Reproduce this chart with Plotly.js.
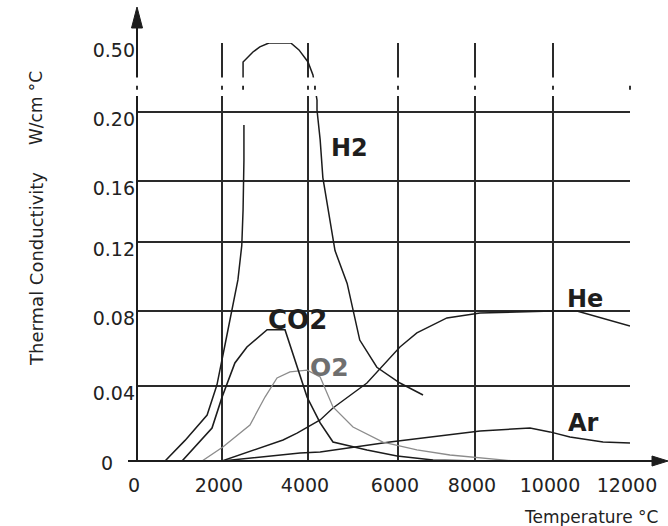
<!DOCTYPE html>
<html>
<head>
<meta charset="utf-8">
<script src="https://cdn.plot.ly/plotly-3.0.1.min.js"></script>
<style>
  html, body { margin: 0; padding: 0; background: #ffffff; }
  #chart { width: 668px; height: 526px; }
</style>
</head>
<body>
<div id="chart"></div>
<script>
// Thermal conductivity of plasma gases versus temperature.

// Temperature tick labels (°C) and conductivity tick labels (W/cm °C)
const tempTicks = [0, 2000, 4000, 6000, 8000, 10000, 12000];
const condTicks = [0, 0.04, 0.08, 0.12, 0.16, 0.20, 0.50];
const condTickText = ['0', '0.04', '0.08', '0.12', '0.16', '0.20', '0.50'];

// H2 (null splits the lower rising branch from the part above the axis break)
const h2Temp = [660, 1130, 1650, 1880, 2070, 2230, 2370, 2460, 2490, 2510, 2510, null,
                2490, 2490, 2720, 2880, 3090, 3600, 3790, 4000, 4110, 4155, 4200, 4200,
                4270, 4330, 4490, 4600, 4870, 5150, 5530, 6050, 6650];
const h2Cond = [0, 0.011, 0.0245, 0.0405, 0.062, 0.0806, 0.098, 0.118, 0.141, 0.172, 0.1925, null,
                0.345, 0.4175, 0.461, 0.483, 0.50, 0.50, 0.47, 0.4175, 0.361, 0.304, 0.252, 0.2087,
                0.184, 0.162, 0.134, 0.115, 0.096, 0.0645, 0.050, 0.0416, 0.0352];

// CO2
const co2Temp = [1060, 1765, 2000, 2300, 2580, 3050, 3465, 3745, 3980, 4270, 4555, 5310, 5980, 6910, 8130];
const co2Cond = [0, 0.0176, 0.034, 0.0523, 0.0608, 0.070, 0.070, 0.050, 0.034, 0.0203, 0.0101, 0.0059, 0.0027, 0.0005, 0];

// O2
const o2Temp = [1530, 2020, 2650, 3000, 3280, 3580, 3980, 4270, 4555, 5000, 5665, 6490, 7350, 8130, 9000];
const o2Cond = [0, 0.0075, 0.0192, 0.0341, 0.0443, 0.0475, 0.0485, 0.0448, 0.0288, 0.0181, 0.0101, 0.0059, 0.0032, 0.0016, 0];

// He
const heTemp = [2000, 3420, 3745, 4270, 4555, 5310, 6050, 6490, 7270, 8130, 10000, 10620, 12000];
const heCond = [0, 0.0112, 0.0149, 0.0219, 0.0283, 0.0416, 0.0608, 0.0683, 0.0763, 0.0789, 0.080, 0.080, 0.072];

// Ar
const arTemp = [2000, 3815, 4270, 5820, 8130, 9410, 9920, 10440, 11300, 12000];
const arCond = [0, 0.0043, 0.0048, 0.0101, 0.016, 0.0176, 0.0155, 0.0128, 0.0101, 0.0096];

// ---- hand-ruled grid: tick positions as fractions of the plot box ----
const W = 668, H = 526;
const box = { left: 137, top: 43, width: 493, height: 418 };
const gridX = [0, 85, 171, 261, 338, 416, 493].map(v => v / box.width);
const gridY = [0, 75, 150, 219, 280, 349, 418].map(v => v / box.height);

function interp(v, from, to) {
  if (v === null) return null;
  for (let i = 1; i < from.length; i++) {
    if (v <= from[i] || i === from.length - 1) {
      const t = (v - from[i - 1]) / (from[i] - from[i - 1]);
      return to[i - 1] + t * (to[i] - to[i - 1]);
    }
  }
}
const sx = v => interp(v, tempTicks, gridX);
const sy = v => interp(v, condTicks, gridY);
// pixel helpers for decorations around the plot box
const px = p => (p - box.left) / box.width;
const py = p => (box.top + box.height - p) / box.height;

const ink = '#1c1c1c';
function curve(name, xs, ys, color, width) {
  return {
    type: 'scatter', mode: 'lines', name: name,
    x: xs.map(sx), y: ys.map(sy),
    line: { color: color, width: width },
    connectgaps: false, hoverinfo: 'skip'
  };
}

const traces = [
  curve('Ar', arTemp, arCond, ink, 1.4),
  curve('He', heTemp, heCond, ink, 1.4),
  curve('O2', o2Temp, o2Cond, '#8c8c8c', 1.3),
  curve('CO2', co2Temp, co2Cond, ink, 1.6),
  curve('H2', h2Temp, h2Cond, ink, 1.5)
];

// ---- axis break band with small marks ----
const breakLow = 0.27, breakHigh = 0.35, breakMid = 0.305;
const shapes = [];
// x axis line with arrow
shapes.push({ type: 'line', xref: 'paper', yref: 'paper', x0: px(128), x1: px(656), y0: 0, y1: 0,
              line: { color: ink, width: 2 }, layer: 'above' });
shapes.push({ type: 'path', xref: 'paper', yref: 'paper',
              path: `M ${px(668)} ${py(461)} L ${px(652)} ${py(456)} L ${px(652)} ${py(466)} Z`,
              fillcolor: ink, line: { color: ink, width: 1 }, layer: 'above' });
// y axis line with arrow
shapes.push({ type: 'line', xref: 'paper', yref: 'paper', x0: 0, x1: 0, y0: 0, y1: py(26),
              line: { color: ink, width: 2 }, layer: 'above' });
shapes.push({ type: 'path', xref: 'paper', yref: 'paper',
              path: `M ${px(137)} ${py(7)} L ${px(131.5)} ${py(28)} L ${px(142.5)} ${py(28)} Z`,
              fillcolor: ink, line: { color: ink, width: 1 }, layer: 'above' });
// white band where the axis is broken
shapes.push({ type: 'rect', xref: 'paper', yref: 'paper', x0: px(130), x1: px(636),
              y0: sy(breakLow), y1: sy(breakHigh), fillcolor: '#ffffff',
              line: { width: 0 }, layer: 'above' });
// short marks inside the break on each vertical rule and on the H2 branches
const markTemps = tempTicks.concat([2490, 4155]);
markTemps.forEach(t => {
  shapes.push({ type: 'line', xref: 'paper', yref: 'paper', x0: sx(t), x1: sx(t),
                y0: sy(breakMid) - 2 / box.height, y1: sy(breakMid) + 2 / box.height,
                line: { color: ink, width: 1.8 }, layer: 'above' });
});

const labelFont = { family: 'DejaVu Sans', size: 24, color: '#1e1e1e', weight: 'bold' };
const annotations = [
  { x: sx(4930), y: sy(0.179), text: 'H2', font: labelFont },
  { x: sx(3745), y: sy(0.0752), text: 'CO2', font: Object.assign({}, labelFont, { size: 26 }) },
  { x: sx(4470), y: sy(0.0501), text: 'O2', font: Object.assign({}, labelFont, { color: '#6f6f6f', size: 25 }) },
  { x: sx(10830), y: sy(0.087), text: 'He', font: labelFont },
  { x: sx(10780), y: sy(0.0203), text: 'Ar', font: labelFont },
  // origin label of the conductivity scale
  { xref: 'paper', yref: 'paper', x: px(107), y: py(463), text: '0',
    font: { family: 'DejaVu Sans', size: 19, color: '#222' } },
  // axis titles
  { xref: 'paper', yref: 'paper', x: px(660), y: py(517), xanchor: 'right', text: 'Temperature °C',
    font: { family: 'DejaVu Sans', size: 17, color: '#222' } },
  { xref: 'paper', yref: 'paper', x: px(36), y: py(108), textangle: -90, text: 'W/cm °C',
    font: { family: 'DejaVu Sans', size: 17, color: '#222' } },
  { xref: 'paper', yref: 'paper', x: px(36), y: py(269), textangle: -90, text: 'Thermal Conductivity',
    font: { family: 'DejaVu Sans', size: 18, color: '#222' } }
].map(a => Object.assign({ xref: 'x', yref: 'y', showarrow: false, xanchor: 'center', yanchor: 'middle' }, a));

const tickFont = { family: 'DejaVu Sans', size: 19, color: '#222' };
const layout = {
  width: W, height: H,
  margin: { l: box.left, r: W - box.left - box.width, t: box.top, b: H - box.top - box.height },
  paper_bgcolor: '#ffffff', plot_bgcolor: '#ffffff',
  showlegend: false,
  xaxis: {
    range: [0, 1], fixedrange: true, zeroline: false, showline: false,
    tickmode: 'array', tickvals: gridX, ticktext: tempTicks.map(String),
    showgrid: true, gridcolor: '#2a2a2a', gridwidth: 1.3,
    ticks: '', tickfont: tickFont, ticklabelshift: -3, ticklabelstandoff: 11
  },
  yaxis: {
    range: [0, 1], fixedrange: true, zeroline: false, showline: false,
    tickmode: 'array', tickvals: gridY.slice(1), ticktext: condTickText.slice(1),
    showgrid: true, gridcolor: '#2a2a2a', gridwidth: 1.3,
    ticks: '', tickfont: tickFont, ticklabelshift: 7, ticklabelstandoff: 1
  },
  shapes: shapes,
  annotations: annotations
};

Plotly.newPlot('chart', traces, layout, { staticPlot: true, displayModeBar: false });
</script>
</body>
</html>
